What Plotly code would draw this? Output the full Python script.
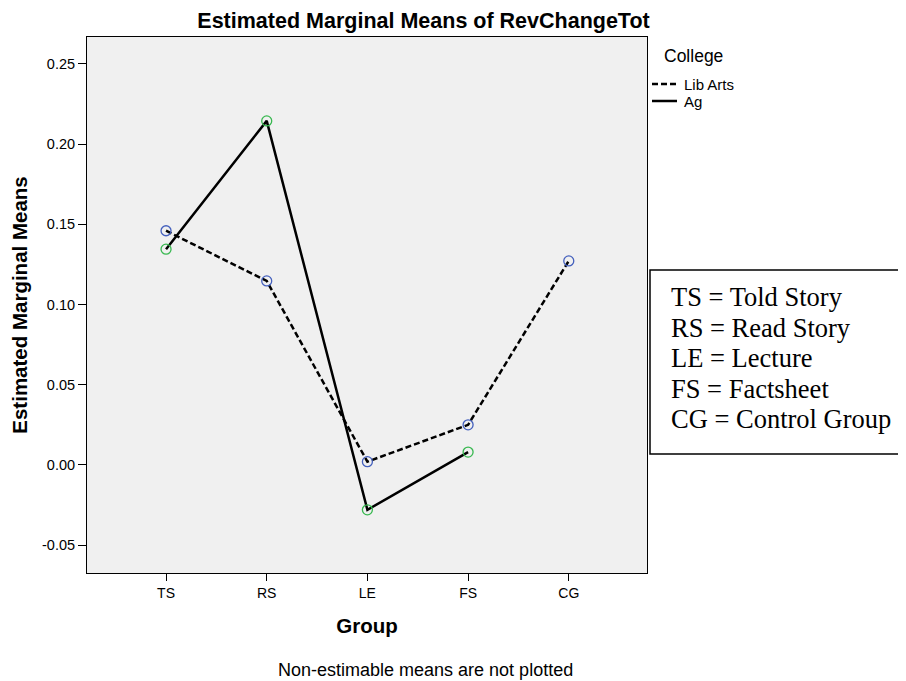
import plotly.graph_objects as go

groups = ["TS", "RS", "LE", "FS", "CG"]
lib_arts = [0.146, 0.1147, 0.002, 0.025, 0.1272]
ag_groups = ["TS", "RS", "LE", "FS"]
ag = [0.1345, 0.2145, -0.028, 0.008]
y_ticks = [-0.05, 0.00, 0.05, 0.10, 0.15, 0.20, 0.25]
y_tick_labels = ["-0.05", "0.00", "0.05", "0.10", "0.15", "0.20", "0.25"]
key_lines = ["TS = Told Story", "RS = Read Story", "LE = Lecture", "FS = Factsheet", "CG = Control Group"]
legend_title = "College"
series_names = ["Lib Arts", "Ag"]

# page body has an 8px margin, so the figure is drawn 8px smaller and offset
OFF = 8
W, H = 906 - OFF, 681 - OFF
PL, PR, PT, PB = 87, 647, 37, 573  # plot area in reference pixels


def px(X):
    return (X - PL) / (PR - PL)


def py(Y):
    return (PB - Y) / (PB - PT)


fig = go.Figure()
fig.add_trace(go.Scatter(
    x=groups, y=lib_arts, mode="lines", name=series_names[0],
    line=dict(color="black", width=2.5, dash="6px,3px"), showlegend=False))
fig.add_trace(go.Scatter(
    x=ag_groups, y=ag, mode="lines", name=series_names[1],
    line=dict(color="black", width=2.5), showlegend=False))
fig.add_trace(go.Scatter(
    x=groups, y=lib_arts, mode="markers", showlegend=False, name=series_names[0],
    marker=dict(symbol="circle-open", size=10, color="#4460bd", line=dict(width=1.3))))
fig.add_trace(go.Scatter(
    x=ag_groups, y=ag, mode="markers", showlegend=False, name=series_names[1],
    marker=dict(symbol="circle-open", size=10, color="#38b850", line=dict(width=1.3))))

fig.update_layout(
    width=W, height=H,
    margin=dict(l=PL - OFF, r=W - (PR - OFF), t=PT - OFF, b=H - (PB - OFF)),
    paper_bgcolor="white", plot_bgcolor="#f0f0f0",
    font=dict(family="Liberation Sans, Arial, sans-serif", color="black"),
    title=dict(text="<b>Estimated Marginal Means of RevChangeTot</b>",
               x=(423.5 - OFF) / W, xanchor="center", y=1 - (20 - OFF) / H, yanchor="middle",
               font=dict(size=21.5)),
    showlegend=False,
)
fig.update_xaxes(
    type="category", categoryorder="array", categoryarray=groups,
    range=[-0.785, 4.777], showgrid=False, zeroline=False,
    showline=True, linecolor="black", linewidth=1, mirror=True,
    ticks="outside", ticklen=7, tickcolor="black",
    tickfont=dict(size=14),
    title=dict(text="<b>Group</b>", font=dict(size=20.5), standoff=18),
)
fig.update_yaxes(
    range=[-0.0674, 0.2668], tickvals=y_ticks, ticktext=y_tick_labels,
    showgrid=False, zeroline=False,
    showline=True, linecolor="black", linewidth=1, mirror=True,
    ticks="outside", ticklen=8, tickcolor="black",
    tickfont=dict(size=14.5),
    title=dict(text="<b>Estimated Marginal Means</b>", font=dict(size=20.5), standoff=8),
)

# manual legend
fig.add_annotation(xref="paper", yref="paper", x=px(662), xanchor="left",
                   y=py(56), yanchor="middle", text=legend_title, showarrow=False,
                   font=dict(size=17.5))
for i, (nm, dash) in enumerate(zip(series_names, ["6px,3px", "solid"])):
    yy = 84 + 17 * i
    fig.add_shape(type="line", xref="paper", yref="paper",
                  x0=px(652), x1=px(677), y0=py(yy), y1=py(yy),
                  line=dict(color="black", width=2.5, dash=dash))
    fig.add_annotation(xref="paper", yref="paper", x=px(682), xanchor="left",
                       y=py(yy), yanchor="middle", text=nm, showarrow=False,
                       font=dict(size=15))

# key box
fig.add_shape(type="rect", xref="paper", yref="paper",
              x0=px(650), x1=px(915), y0=py(454), y1=py(270),
              line=dict(color="black", width=1.5), fillcolor="white", layer="below")
for i, t in enumerate(key_lines):
    fig.add_annotation(xref="paper", yref="paper",
                       x=px(669), xanchor="left",
                       y=py(297 + 30.6 * i), yanchor="middle",
                       text=t, showarrow=False, align="left",
                       font=dict(family="Liberation Serif, Times New Roman, serif", size=26.5))

fig.add_annotation(xref="paper", yref="paper", x=px(425.5), y=py(670),
                   text="Non-estimable means are not plotted", showarrow=False,
                   xanchor="center", yanchor="middle", font=dict(size=18))

fig.write_html("out.html")
